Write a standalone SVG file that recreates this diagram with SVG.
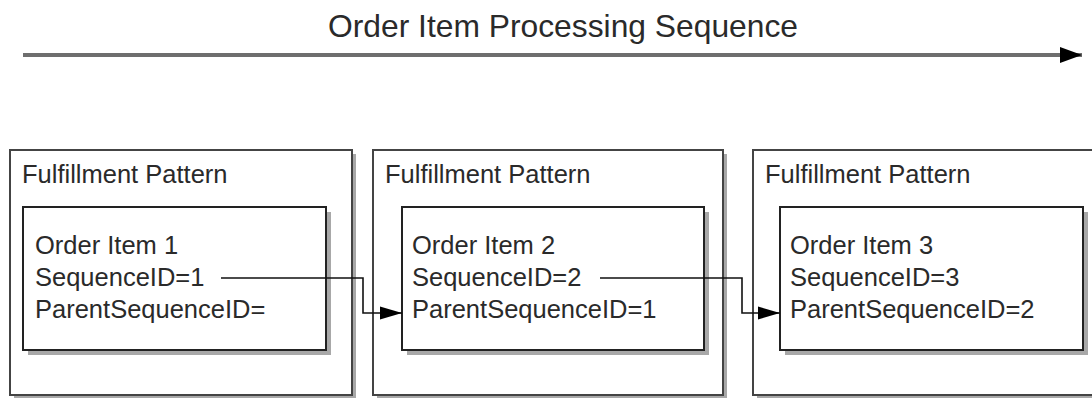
<svg xmlns="http://www.w3.org/2000/svg" width="1092" height="398" viewBox="0 0 1092 398">
<style>
text{font-family:"Liberation Sans",Arial,sans-serif;fill:#2a2a2a}
.lbl{font-size:25.5px}
.title{font-size:31.5px}
.shadow{fill:#a8a8a8;stroke:none}
.outer{fill:#fff;stroke:#444;stroke-width:2}
.inner{fill:#fff;stroke:#222;stroke-width:2}
.conn{fill:none;stroke:#111;stroke-width:1.6}
</style>
<defs>
<marker id="ah" markerWidth="22" markerHeight="14" refX="22" refY="7" orient="auto" markerUnits="userSpaceOnUse">
<path d="M0,0.5 L22,7 L0,13.5 Z" fill="#000"/>
</marker>
<marker id="ahBig" markerWidth="22" markerHeight="16" refX="22" refY="8" orient="auto" markerUnits="userSpaceOnUse">
<path d="M0,0 L22,8 L0,16 Z" fill="#000"/>
</marker>
</defs>
<rect width="1092" height="398" fill="#fff"/>
<g id="header">
<text class="title" x="328" y="37" textLength="470" lengthAdjust="spacingAndGlyphs">Order Item Processing Sequence</text>
<line x1="23" y1="55" x2="1082" y2="55" stroke="#6e6e6e" stroke-width="4" marker-end="url(#ahBig)"/>
</g>
<g id="pattern1">
<rect class="shadow" x="14" y="154" width="342" height="245"/>
<rect class="outer" x="10" y="150" width="342" height="245"/>
<text class="lbl" x="22" y="183">Fulfillment Pattern</text>
</g>
<g id="item1">
<rect class="shadow" x="28" y="212" width="303" height="143"/>
<rect class="inner" x="23" y="207" width="303" height="143"/>
<text class="lbl" x="35" y="254">Order Item 1</text>
<text class="lbl" x="35" y="286">SequenceID=1</text>
<text class="lbl" x="35" y="318">ParentSequenceID=</text>
</g>
<g id="pattern2">
<rect class="shadow" x="377" y="154" width="350" height="245"/>
<rect class="outer" x="373" y="150" width="350" height="245"/>
<text class="lbl" x="385" y="183">Fulfillment Pattern</text>
</g>
<g id="item2">
<rect class="shadow" x="407" y="212" width="302" height="143"/>
<rect class="inner" x="402" y="207" width="302" height="143"/>
<text class="lbl" x="412" y="254">Order Item 2</text>
<text class="lbl" x="412" y="286">SequenceID=2</text>
<text class="lbl" x="412" y="318">ParentSequenceID=1</text>
</g>
<g id="pattern3">
<rect class="shadow" x="757" y="154" width="350" height="245"/>
<rect class="outer" x="753" y="150" width="350" height="245"/>
<text class="lbl" x="765" y="183">Fulfillment Pattern</text>
</g>
<g id="item3">
<rect class="shadow" x="785" y="212" width="303" height="143"/>
<rect class="inner" x="780" y="207" width="303" height="143"/>
<text class="lbl" x="790" y="254">Order Item 3</text>
<text class="lbl" x="790" y="286">SequenceID=3</text>
<text class="lbl" x="790" y="318">ParentSequenceID=2</text>
</g>
<g id="connectors">
<path class="conn" d="M221,278 H363 V313 H402" marker-end="url(#ah)"/>
<path class="conn" d="M600,278 H742 V313 H780" marker-end="url(#ah)"/>
</g>
</svg>
